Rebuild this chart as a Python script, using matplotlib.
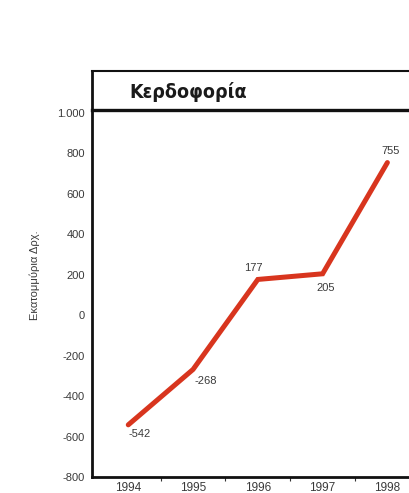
import matplotlib
matplotlib.use("Agg")
import matplotlib.pyplot as plt
from matplotlib.lines import Line2D
from matplotlib.ticker import FixedLocator, FuncFormatter

years = [1994, 1995, 1996, 1997, 1998]
profit = [-542, -268, 177, 205, 755]
yticks = [-800, -600, -400, -200, 0, 200, 400, 600, 800, 1000]
title = "Κερδοφορία"
ylabel = "Εκατομμύρια Δρχ."

W, H = 410, 493
fig = plt.figure(figsize=(W / 100, H / 100), dpi=100)
fig.patch.set_facecolor("white")

left_px, right_px, top_px, bottom_px = 92, 412, 110, 477
ax = fig.add_axes([left_px / W, 1 - bottom_px / H,
                   (right_px - left_px) / W, (bottom_px - top_px) / H])

line_color = "#d8351e"
ax.plot(years, profit, color=line_color, lw=3.6, solid_capstyle="round",
        solid_joinstyle="miter")

ax.set_xlim(1993.44, 1998.38)
ax.set_ylim(-800, 1015)

text_color = "#3a3a3a"
ax.set_yticks(yticks)
ax.yaxis.set_major_formatter(FuncFormatter(
    lambda v, p: f"{int(v):,}".replace(",", ".")))
ax.set_xticks(years)
ax.xaxis.set_minor_locator(FixedLocator([y + 0.5 for y in years[:-1]]))
for lab in ax.get_yticklabels():
    lab.set_fontfamily("Liberation Sans")
    lab.set_fontsize(8)
    lab.set_color(text_color)
for lab in ax.get_xticklabels():
    lab.set_fontfamily("Liberation Sans")
    lab.set_fontsize(8.5)
    lab.set_color(text_color)
ax.tick_params(axis="x", which="major", length=0, pad=3.5)
ax.tick_params(axis="x", which="minor", length=3, width=0.8, color="#333333")
ax.tick_params(axis="y", length=0, pad=5)

ax.spines["right"].set_visible(False)
ax.spines["left"].set_linewidth(2.0)
ax.spines["bottom"].set_linewidth(2.0)
ax.spines["top"].set_linewidth(2.4)
for s in ax.spines.values():
    s.set_color("#111111")

# value labels next to each point
offsets = [(8, -6.5), (9, -8.6), (-3, 8), (2, -10), (2, 8)]
for x, v, (dx, dy) in zip(years, profit, offsets):
    ax.annotate(str(v), (x, v), xytext=(dx, dy), textcoords="offset points",
                ha="center", va="center", fontsize=8,
                family="Liberation Sans", color=text_color)

# title band above the plotting area
fig.add_artist(Line2D([left_px / W, 1.0], [1 - 71 / H, 1 - 71 / H],
                      transform=fig.transFigure, color="#111111", lw=1.5))
fig.add_artist(Line2D([left_px / W, left_px / W], [1 - 71 / H, 1 - top_px / H],
                      transform=fig.transFigure, color="#111111", lw=2.0))
fig.text(129 / W, 1 - 92 / H, title, fontsize=14, fontweight="bold",
         fontstretch="condensed", family="DejaVu Sans", color="#1a1a1a",
         va="center", ha="left")

fig.text(35 / W, 1 - 275 / H, ylabel, rotation=90, fontsize=8,
         family="Liberation Sans", color=text_color, va="center", ha="center")

fig.savefig("out.png", dpi=100, facecolor="white")
